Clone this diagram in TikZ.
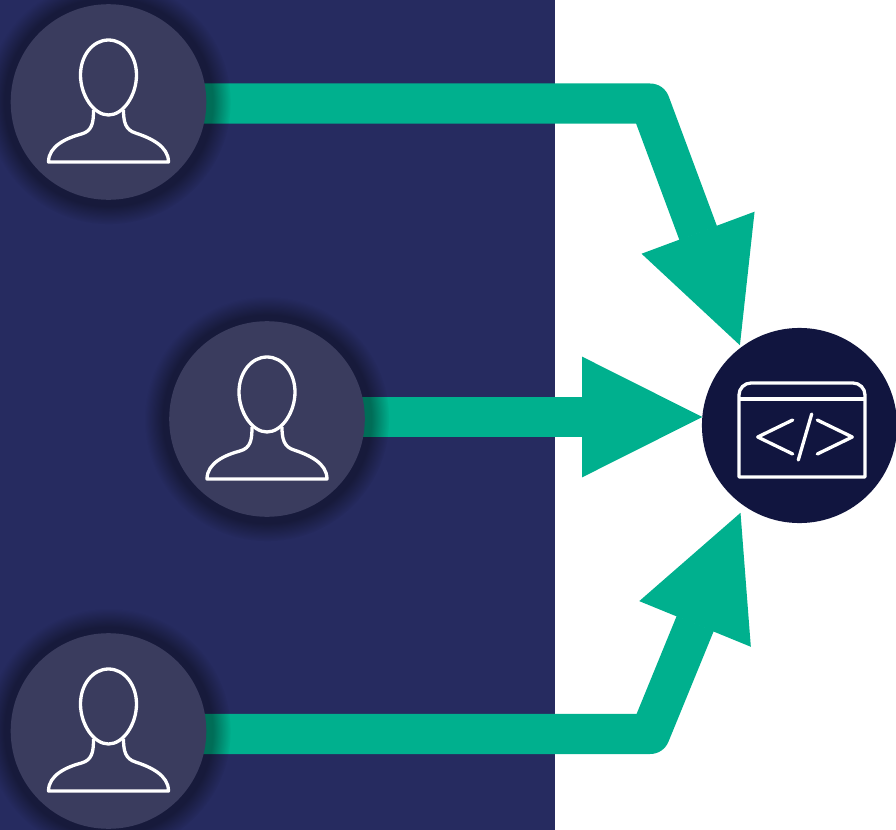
\documentclass[tikz,border=0pt]{standalone}
\usepackage{tikz}
\usetikzlibrary{arrows.meta,backgrounds,shadows}
\definecolor{navy}{HTML}{262B60}
\definecolor{slate}{HTML}{3A3C5E}
\definecolor{ink}{HTML}{11153F}
\definecolor{mint}{HTML}{00B08E}

\begin{document}
\begin{tikzpicture}[x=0.01cm, y=-0.01cm,
    user/.style={circle, fill=slate, minimum size=1.955cm, outer sep=0pt,
        circular drop shadow={shadow xshift=0cm, shadow yshift=0cm, shadow scale=1.25, opacity=0.38, fill=black}},
    code/.style={circle, fill=ink, minimum size=1.95cm, outer sep=0pt},
    flow/.style={draw=mint, line width=0.4cm, line join=round,
        -{Triangle[length=1.2cm, width=1.2cm, line width=0.02cm, line join=miter]}},
    icon/.style={draw=white, line width=0.033cm, line join=round},
    person/.pic={
        \draw[icon] (0,-62) .. controls (16,-62) and (28,-46) .. (28,-27)
            .. controls (28,-7) and (15,13) .. (0,13)
            .. controls (-15,13) and (-28,-7) .. (-28,-27)
            .. controls (-28,-46) and (-16,-62) .. (0,-62) -- cycle;
        \draw[icon] (-15,8) .. controls (-15,20) and (-16,29) .. (-27,32)
            .. controls (-42,36) and (-60,44) .. (-60,60) -- (60,60)
            .. controls (60,44) and (42,36) .. (27,31)
            .. controls (17,28) and (15,20) .. (15,8);
    }]
    \useasboundingbox (0,0) rectangle (896,830);

    \node[user] (U1) at (108.5,102) {};
    \node[user] (U2) at (267,419) {};
    \node[user] (U3) at (108.5,731) {};
    \node[code] (C) at (799.5,425.5) {};
    \coordinate (B1) at (650,103.5);
    \coordinate (B3) at (650,734);

    \begin{scope}[on background layer]
        \fill[navy] (0,0) rectangle (555,830);
        \draw[flow, shorten >=0.025cm] (U1 |- B1) -- (B1) -- (C.127);
        \draw[flow] (U2 |- C.175) -- (C.175);
        \draw[flow, shorten >=0.08cm] (U3 |- B3) -- (B3) -- (C.235);
    \end{scope}

    \pic at (U1) {person};
    \pic at (U2) {person};
    \pic at (U3) {person};

    \draw[icon] (739,477) [rounded corners=0.12cm] -- (739,383) -- (865,383) [sharp corners] -- (865,477) -- cycle;
    \draw[icon] (739,399) -- (865,399);
    \draw[icon, line cap=round] (792.7,420) -- (757.7,437) -- (792.7,454);
    \draw[icon, line cap=round] (811.7,414) -- (798.3,460);
    \draw[icon, line cap=round] (817.3,420) -- (852.3,437) -- (817.3,454);
\end{tikzpicture}
\end{document}
